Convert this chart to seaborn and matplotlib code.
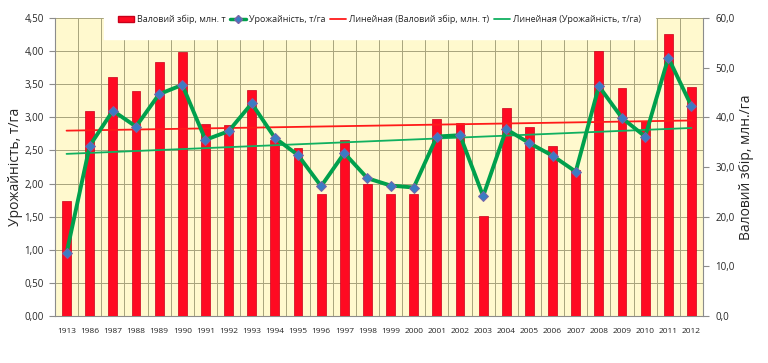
import numpy as np
import pandas as pd
import matplotlib
matplotlib.use('Agg')
import matplotlib.pyplot as plt
import seaborn as sns
from matplotlib.ticker import FuncFormatter, MultipleLocator
from matplotlib.patches import Patch
from matplotlib.lines import Line2D

# Years on the category axis
years = ['1913'] + [str(y) for y in range(1986, 2013)]

# Gross harvest, mln t (right axis)
harvest = [23.2, 41.3, 48.1, 45.3, 51.2, 53.2, 38.6, 38.4, 45.6, 35.5,
           33.9, 24.6, 35.5, 26.5, 24.6, 24.5, 39.7, 38.8, 20.2, 41.8,
           38.0, 34.3, 29.3, 53.3, 46.0, 39.3, 56.7, 46.2]

# Yield, t/ha (left axis)
yields = [0.95, 2.57, 3.10, 2.86, 3.35, 3.49, 2.66, 2.79, 3.21, 2.69,
          2.43, 1.96, 2.46, 2.08, 1.97, 1.94, 2.71, 2.73, 1.81, 2.82,
          2.61, 2.42, 2.18, 3.47, 2.99, 2.71, 3.90, 3.17]

df = pd.DataFrame({'Year': years, 'Harvest': harvest, 'Yield': yields})

# Linear trend lines (like Excel "Линейная")
idx = np.arange(len(years))
df['Harvest_trend'] = np.polyval(np.polyfit(idx, df['Harvest'], 1), idx)
df['Yield_trend'] = np.polyval(np.polyfit(idx, df['Yield'], 1), idx)

sns.set_style('white')
plt.rcParams['font.family'] = ['Open Sans', 'DejaVu Sans']

BAR_RED = '#FF0A22'
LINE_GREEN = '#00A04C'
TREND_RED = '#FF1A1A'
TREND_GREEN = '#10B060'
GRID = '#A8A47C'
SPINE = '#8C8C8C'

fig = plt.figure(figsize=(7.68, 3.63), dpi=100)
ax = fig.add_axes([0.0716, 0.1295, 0.8438, 0.8209])
ax2 = ax.twinx()
ax3 = ax.twinx()

ax.set_facecolor('#FFF9CE')

# bars on the right axis
sns.barplot(data=df, x='Year', y='Harvest', ax=ax2, color=BAR_RED,
            saturation=1, width=0.38, edgecolor='#C8001A', linewidth=0.5)
sns.lineplot(data=df, x='Year', y='Harvest_trend', ax=ax2, color=TREND_RED,
             linewidth=1.3, sort=False)

# yield line on a left-scaled overlay
sns.lineplot(data=df, x='Year', y='Yield_trend', ax=ax3, color=TREND_GREEN,
             linewidth=1.3, sort=False)
sns.lineplot(data=df, x='Year', y='Yield', ax=ax3, color=LINE_GREEN,
             linewidth=2.8, marker='D', markersize=5.5,
             markerfacecolor='#3A7CC4', markeredgecolor='#7A62A8',
             markeredgewidth=0.7, sort=False)

ax.set_xlim(-0.5, len(years) - 0.5)
ax.set_ylim(0, 4.5)
ax3.set_ylim(0, 4.5)
ax2.set_ylim(0, 60)

ax.yaxis.set_major_locator(MultipleLocator(0.5))
ax.yaxis.set_major_formatter(FuncFormatter(lambda v, p: f'{v:.2f}'.replace('.', ',')))
ax2.yaxis.set_major_locator(MultipleLocator(10))
ax2.yaxis.set_major_formatter(FuncFormatter(lambda v, p: f'{v:.1f}'.replace('.', ',')))

# grid behind the bars
ax.set_xticks(np.arange(-0.5, len(years), 1), minor=True)
ax.grid(which='minor', axis='x', color=GRID, linewidth=0.7)
ax.grid(which='major', axis='y', color=GRID, linewidth=0.7)
ax.set_axisbelow(True)

ax.tick_params(axis='x', which='major', length=0, pad=9, labelsize=6)
ax.tick_params(axis='x', which='minor', length=4, color=SPINE, direction='out')
ax.tick_params(axis='y', length=4, color=SPINE, direction='out', labelsize=7, pad=4)
ax2.tick_params(axis='y', length=4, color=SPINE, direction='out', labelsize=7, pad=5)
ax3.tick_params(axis='y', right=False, labelright=False)

for a in (ax, ax2, ax3):
    for s in a.spines.values():
        s.set_visible(False)
ax.spines['left'].set_visible(True)
ax.spines['left'].set_color(SPINE)
ax.spines['bottom'].set_visible(True)
ax.spines['bottom'].set_color(SPINE)
ax2.spines['right'].set_visible(True)
ax2.spines['right'].set_color(SPINE)

ax.set_xlabel('')
ax2.set_xlabel('')
ax3.set_xlabel('')
ax3.set_ylabel('')
ax.set_ylabel('Урожайність, т/га', fontsize=10)
ax.yaxis.set_label_coords(-0.05, 0.5)
ax2.set_ylabel('Валовий збір, млн./га', fontsize=10)
ax2.yaxis.set_label_coords(1.056, 0.5)

handles = [
    Patch(facecolor=BAR_RED, edgecolor='#C8001A'),
    Line2D([], [], color=LINE_GREEN, linewidth=2.5, marker='D', markersize=4.5,
           markerfacecolor='#3A7CC4', markeredgecolor='#7A62A8'),
    Line2D([], [], color=TREND_RED, linewidth=1.3),
    Line2D([], [], color=TREND_GREEN, linewidth=1.3),
]
labels = ['Валовий збір, млн. т', 'Урожайність, т/га',
          'Линейная (Валовий збір, млн. т)', 'Линейная (Урожайність, т/га)']
leg = fig.legend(handles, labels, ncol=4, loc='center',
                 bbox_to_anchor=(0.494, 0.946), frameon=True,
                 facecolor='white', edgecolor='white', framealpha=1,
                 fontsize=6.5, handlelength=1.8, columnspacing=0.5,
                 handletextpad=0.3, borderpad=1.6, fancybox=False)

fig.savefig('out.png', dpi=100)
